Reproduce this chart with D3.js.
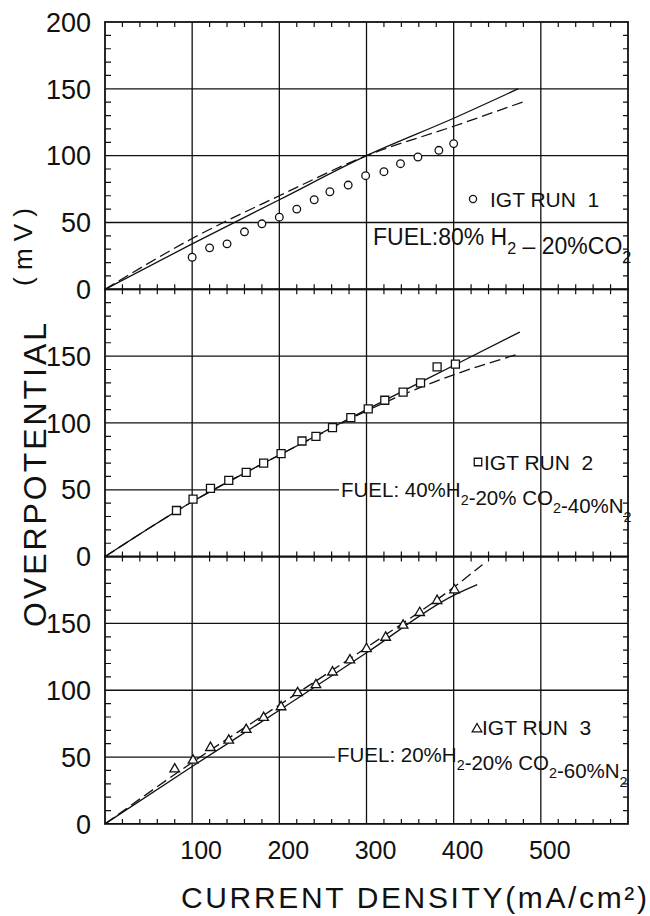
<!DOCTYPE html>
<html>
<head>
<meta charset="utf-8">
<script src="https://cdn.jsdelivr.net/npm/d3@7"></script>
<style>
  body { margin: 0; background: #fff; }
  text { font-family: "Liberation Sans", Arial, sans-serif; fill: #111; white-space: pre; }
</style>
</head>
<body>
<svg id="chart" width="650" height="916"></svg>
<script>
// ---- data ----
var xTicks = [100, 200, 300, 400, 500];
var yTicks = [0, 50, 100, 150];

// IGT run 1 (circles)
var run1X = [100, 120, 140, 160, 180, 200, 220, 240, 258, 279, 299, 320, 339, 359, 383, 400];
var run1Y = [24, 31, 34, 43, 49, 54, 60, 67, 73, 78, 85, 88, 94, 99, 104, 109];
var fit1X = [0, 100, 200, 300, 400, 474];
var fit1Y = [0, 34, 67, 100, 128, 150];
var dash1X = [0, 100, 200, 300, 400, 483];
var dash1Y = [0, 38, 70, 100, 122, 141];

// IGT run 2 (squares)
var run2X = [82, 101, 121, 142, 162, 182, 202, 226, 242, 261, 282, 302, 321, 342, 362, 381, 402];
var run2Y = [34.5, 43, 51, 57, 63, 70, 77, 86.5, 90, 96.5, 104, 110.5, 117, 123, 130, 142, 144];
var fit2X = [0, 100, 200, 300, 400, 476];
var fit2Y = [0, 41, 76, 110, 143, 168];
var dash2X = [0, 100, 200, 260, 300, 400, 474];
var dash2Y = [0, 41, 76, 96, 109, 136, 151.5];

// IGT run 3 (triangles)
var run3X = [80, 101, 121, 142, 162, 182, 202, 221, 242, 261, 281, 300, 322, 342, 361, 381, 401];
var run3Y = [41, 47.5, 57, 62.5, 70.5, 79.5, 87.5, 98, 104, 113.5, 122.5, 131, 139.5, 148.5, 158, 167, 175];
var fit3X = [0, 100, 200, 300, 400, 427];
var fit3Y = [0, 43, 85, 128, 171, 179];
var dash3X = [0, 100, 200, 300, 400, 433];
var dash3Y = [0, 46, 89, 132, 177, 194];

// ---- layout ----
var X0 = 105, X1 = 628, Y0 = 22, PH = 267.3;
var svg = d3.select('#chart');
var x = d3.scaleLinear().domain([0, 600]).range([X0, X1]);

function zip(a, b) { return a.map(function(v, i) { return [v, b[i]]; }); }

var panels = [
  { pts: zip(run1X, run1Y), fit: zip(fit1X, fit1Y), dash: zip(dash1X, dash1Y), sym: d3.symbolCircle, size: 46 },
  { pts: zip(run2X, run2Y), fit: zip(fit2X, fit2Y), dash: zip(dash2X, dash2Y), sym: d3.symbolSquare, size: 64 },
  { pts: zip(run3X, run3Y), fit: zip(fit3X, fit3Y), dash: zip(dash3X, dash3Y), sym: d3.symbolTriangle, size: 40 }
];

var hGrid = svg.append('g'), mask = svg.append('g'), vGrid = svg.append('g'),
    frames = svg.append('g'), marks = svg.append('g'), labels = svg.append('g');

panels.forEach(function(p, i) {
  var top = Y0 + i * PH, bot = top + PH;
  var y = d3.scaleLinear().domain([0, 200]).range([bot, top]);
  p.y = y;

  hGrid.selectAll(null).data([50, 100, 150]).enter().append('line')
    .attr('x1', X0).attr('x2', X1)
    .attr('y1', function(d) { return y(d); }).attr('y2', function(d) { return y(d); })
    .attr('stroke', '#111').attr('stroke-width', 1.3);

  vGrid.selectAll(null).data(xTicks).enter().append('line')
    .attr('x1', function(d) { return x(d); }).attr('x2', function(d) { return x(d); })
    .attr('y1', top).attr('y2', bot)
    .attr('stroke', '#111').attr('stroke-width', 1.3);

  frames.append('rect').attr('x', X0).attr('y', top).attr('width', X1 - X0).attr('height', PH)
    .attr('fill', 'none').attr('stroke', '#111').attr('stroke-width', 1.8);

  // minor ticks, inward
  var yMinor = d3.range(10, 200, 10).filter(function(d) { return d % 50; });
  frames.selectAll(null).data(yMinor).enter().append('path')
    .attr('d', function(d) { return 'M' + X0 + ',' + y(d) + 'h6M' + X1 + ',' + y(d) + 'h-5'; })
    .attr('stroke', '#111').attr('stroke-width', 1.2);
  var xMinor = d3.range(20, 600, 20).filter(function(d) { return d % 100; });
  frames.selectAll(null).data(xMinor).enter().append('path')
    .attr('d', function(d) { return 'M' + x(d) + ',' + top + 'v5M' + x(d) + ',' + bot + 'v-5'; })
    .attr('stroke', '#111').attr('stroke-width', 1.2);

  // fitted curves
  var line = d3.line().x(function(d) { return x(d[0]); }).y(function(d) { return y(d[1]); })
    .curve(d3.curveMonotoneX);
  marks.append('path').attr('d', line(p.fit)).attr('fill', 'none')
    .attr('stroke', '#111').attr('stroke-width', 1.3);
  marks.append('path').attr('d', line(p.dash)).attr('fill', 'none')
    .attr('stroke', '#111').attr('stroke-width', 1.3).attr('stroke-dasharray', '11,5');

  // data points
  marks.selectAll(null).data(p.pts).enter().append('path')
    .attr('d', d3.symbol().type(p.sym).size(p.size))
    .attr('transform', function(d) { return 'translate(' + x(d[0]) + ',' + y(d[1]) + ')'; })
    .attr('fill', 'white').attr('stroke', '#111').attr('stroke-width', 1.3);

  // y tick labels
  var ty = i === 0 ? yTicks.concat([200]) : yTicks;
  labels.selectAll(null).data(ty).enter().append('text')
    .attr('x', 91).attr('y', function(d) { return y(d); }).attr('dy', '0.36em')
    .attr('text-anchor', 'end').attr('font-size', 27)
    .text(function(d) { return d; });
});

// x tick labels
labels.selectAll(null).data(xTicks).enter().append('text')
  .attr('x', function(d) { return x(d) + 9; }).attr('y', 859)
  .attr('text-anchor', 'middle').attr('font-size', 25)
  .text(function(d) { return d; });

// axis titles
labels.append('text').attr('x', 181).attr('y', 908).attr('font-size', 30)
  .attr('textLength', 466).attr('lengthAdjust', 'spacing')
  .text('CURRENT DENSITY(mA/cm²)');
labels.append('text').attr('transform', 'translate(46,475) rotate(-90)')
  .attr('text-anchor', 'middle').attr('font-size', 32)
  .attr('textLength', 304).attr('lengthAdjust', 'spacing')
  .text('OVERPOTENTIAL');
labels.append('text').attr('transform', 'translate(32,247) rotate(-90)')
  .attr('text-anchor', 'middle').attr('font-size', 26)
  .attr('textLength', 78).attr('lengthAdjust', 'spacing')
  .text('(mV)');

// legends
function fuel(g, xPos, yPos, size, parts) {
  var t = g.append('text').attr('x', xPos).attr('y', yPos).attr('font-size', size);
  parts.forEach(function(s, k) {
    t.append('tspan').text(s);
    if (k < parts.length - 1 || parts.sub) {
      t.append('tspan').attr('dy', size * 0.4).attr('font-size', size * 0.7).text('2');
      t.append('tspan').attr('dy', -size * 0.4).text('');
    }
  });
  return t;
}

var legendSym = [d3.symbolCircle, d3.symbolSquare, d3.symbolTriangle];
var legendSize = [40, 56, 40];
var legendPos = [[473, 199], [478, 462], [477, 729]];
var runNames = ['IGT RUN  1', 'IGT RUN  2', 'IGT RUN  3'];
var runTextX = [490, 484, 482];
var runTextY = [207, 470, 735];

legendPos.forEach(function(pos, i) {
  labels.append('path').attr('d', d3.symbol().type(legendSym[i]).size(legendSize[i]))
    .attr('transform', 'translate(' + pos[0] + ',' + pos[1] + ')')
    .attr('fill', 'white').attr('stroke', '#111').attr('stroke-width', 1.3);
  labels.append('text').attr('x', runTextX[i]).attr('y', runTextY[i]).attr('font-size', 21)
    .text(runNames[i]);
});

// white gaps in the 50 mV grid line behind the lower fuel labels
mask.append('rect').attr('x', 339).attr('y', panels[1].y(50) - 5).attr('width', X1 - 339).attr('height', 10).attr('fill', 'white');
mask.append('rect').attr('x', 335).attr('y', panels[2].y(50) - 5).attr('width', X1 - 335).attr('height', 10).attr('fill', 'white');

var f1 = ['FUEL:80% H', ' \u2013 20%CO', ''];
var f2 = ['FUEL: 40%H', '-20% CO', '-40%N', ''];
var f3 = ['FUEL: 20%H', '-20% CO', '-60%N', ''];
fuel(labels, 373, 245, 23, f1);
fuel(labels, 341, 497, 20.5, f2);
fuel(labels, 337, 762, 20.5, f3);
</script>
</body>
</html>
